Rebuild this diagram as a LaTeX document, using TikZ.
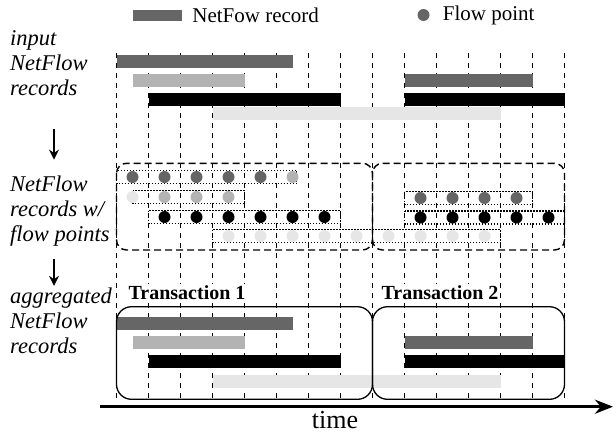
\documentclass[tikz,border=0pt]{standalone}
\usepackage{fontspec}
\setmainfont{Liberation Serif}
\usetikzlibrary{arrows.meta, positioning}

\definecolor{recdark}{HTML}{666666}
\definecolor{reclight}{HTML}{B3B3B3}
\definecolor{recpale}{HTML}{E6E6E6}

\begin{document}
\begin{tikzpicture}[
    x=1pt, y=-1pt,
    grid/.style={dash pattern=on 5pt off 5pt, line width=1.3pt},
    fp/.style={circle, fill=#1, inner sep=0pt, minimum size=12pt},
    fpbox/.style={dash pattern=on 1.3pt off 1.7pt, line width=1.3pt},
    txbox/.style={dash pattern=on 7pt off 4pt, line width=1.4pt, rounded corners=10pt},
    aggbox/.style={line width=1.3pt, rounded corners=15pt},
    label/.style={anchor=west, align=left, inner sep=0pt, font=\fontsize{22.5}{25}\selectfont\itshape},
    legend/.style={inner sep=0pt, font=\fontsize{21}{23}\selectfont},
    txlabel/.style={fill=white, inner sep=1.5pt, font=\fontsize{20}{22}\selectfont\bfseries},
    arrow/.style={-{Stealth[length=10pt, width=10pt]}, line width=1.4pt}]
    \useasboundingbox (0,0) rectangle (616,434);

    % Legend
    \node[fill=recdark, minimum width=49pt, minimum height=11pt, inner sep=0pt] (lgbar) at (157.5,15.5) {};
    \node[legend, right=10pt of lgbar] (lgrec) {NetFow record};
    \node[fp=recdark] (lgdot) at (423.5,15) {};
    \node[legend, right=13pt of lgdot] (lgfp) {Flow point};

    % Time grid
    \foreach \i in {0,...,14}
        \draw[grid] ({116.5+32*\i},53) -- ({116.5+32*\i},401);

    % Input records
    \foreach \s/\e/\y/\c in {0/5.5/55/recdark, 0.5/4/74/reclight, 1/7/93/black, 3/12/107.3/recpale, 9/13/74/recdark, 9/14/93/black}
        \fill[\c] ({116.5+32*\s},\y) rectangle ({116.5+32*\e},\y+12.7);

    % Records with flow points
    \draw[txbox] (116.5,163.3) rectangle (372.5,250);
    \draw[txbox] (372.5,163.3) rectangle (564.5,250);
    \foreach \s/\e/\y in {0/5.63/177, 0.5/4/197, 1/7/217, 3/12/236, 9/13/198, 9/14/217.5}
        \draw[fpbox] ({116.5+32*\s},\y-6.5) rectangle ({116.5+32*\e},\y+6.5);
    \foreach \k in {0.5,1.5,...,4.5}
        \node[fp=recdark] at ({116.5+32*\k},177) {};
    \node[fp=reclight] at ({116.5+32*5.5},177) {};
    \node[fp=recpale] at ({116.5+32*0.5},197) {};
    \foreach \k in {1.5,2.5,3.5}
        \node[fp=reclight] at ({116.5+32*\k},197) {};
    \foreach \k in {1.5,2.5,...,6.5}
        \node[fp=black] at ({116.5+32*\k},217) {};
    \foreach \k in {3.5,4.5,...,11.5}
        \node[fp=recpale] at ({116.5+32*\k},236) {};
    \foreach \k in {9.5,10.5,...,12.5}
        \node[fp=recdark] at ({116.5+32*\k},198) {};
    \foreach \k in {9.5,10.5,...,13.5}
        \node[fp=black] at ({116.5+32*\k},217.5) {};

    % Aggregated records
    \foreach \s/\e/\y/\c in {0/5.5/317/recdark, 0.5/4/336.3/reclight, 1/7/355/black, 3/12/375/recpale, 9/13/336.3/recdark, 9/14/355/black}
        \fill[\c] ({116.5+32*\s},\y) rectangle ({116.5+32*\e},\y+12.7);
    \draw[aggbox] (116.5,306.7) rectangle (372.5,399.3);
    \draw[aggbox] (372.5,306.7) rectangle (564.5,399.3);
    \node[txlabel] (tx1) at (187,293) {Transaction 1};
    \node[txlabel] (tx2) at (440,293) {Transaction 2};

    % Labels
    \node[label] (lblIn) at (10,63.5) {input\\NetFlow\\records};
    \node[label] (lblPts) at (10,211) {NetFlow\\records w/\\flow points};
    \node[label] (lblAgg) at (10,321) {aggregated\\NetFlow\\records};
    \coordinate (arrx) at (54,0);
    \draw[arrow, shorten <=33pt, shorten >=16pt] (lblIn.south -| arrx) -- (lblPts.north -| arrx);
    \draw[arrow, shorten <=13pt, shorten >=2pt] (lblPts.south -| arrx) -- (lblAgg.north -| arrx);

    % Time axis
    \coordinate (t0) at (100,406.7);
    \coordinate (t1) at (613,406.7);
    \draw[line width=3.2pt, -{Stealth[length=18pt, width=14pt]}] (t0) -- (t1);
    \node[inner sep=0pt, anchor=base, font=\fontsize{26}{26}\selectfont] (time) at (335,428) {time};
\end{tikzpicture}
\end{document}
